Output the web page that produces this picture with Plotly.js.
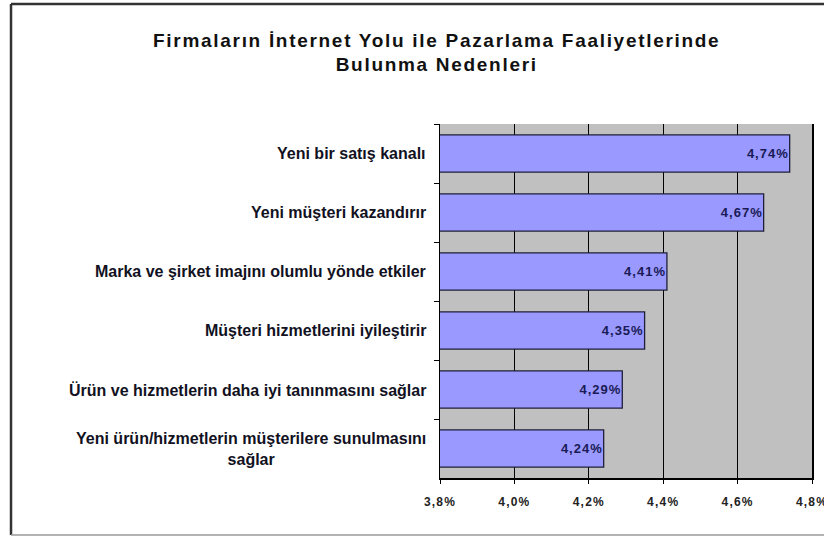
<!DOCTYPE html>
<html>
<head>
<meta charset="utf-8">
<script src="https://cdn.plot.ly/plotly-3.0.1.min.js"></script>
<style>
  html, body { margin: 0; padding: 0; background: #ffffff; }
  #chart { width: 824px; height: 537px; }
  #chart .gtitle { letter-spacing: 1.7px; }
  #chart .xtick text { letter-spacing: 1.2px; }
  #chart .bartext { letter-spacing: 1px; }
</style>
</head>
<body>
<div id="chart"></div>
<script>
const categories = [
  "Yeni bir satış kanalı",
  "Yeni müşteri kazandırır",
  "Marka ve şirket imajını olumlu yönde etkiler",
  "Müşteri hizmetlerini iyileştirir",
  "Ürün ve hizmetlerin daha iyi tanınmasını sağlar",
  "Yeni ürün/hizmetlerin müşterilere sunulmasını<br>sağlar"
];
const values = [4.74, 4.67, 4.41, 4.35, 4.29, 4.24];
const xTicks = [3.8, 4.0, 4.2, 4.4, 4.6, 4.8];

const FONT = "Liberation Sans, Arial, sans-serif";

const trace = {
  type: "bar",
  orientation: "h",
  y: categories,
  x: values,
  base: 0,
  marker: { color: "#9999FF", line: { color: "#1f1f3a", width: 1.3 } },
  texttemplate: "%{x:.2f}%",
  textposition: "inside",
  insidetextanchor: "end",
  textfont: { family: FONT, size: 13, color: "#1a1a55", weight: "bold" },
  cliponaxis: false,
  hoverinfo: "skip"
};

const annotations = categories.map(c => ({
  xref: "paper", yref: "y",
  x: 0, y: c,
  xanchor: "right", yanchor: "middle",
  xshift: -12,
  align: "center",
  text: c,
  showarrow: false,
  font: { family: FONT, size: 16, color: "#111122", weight: "bold" }
}));

const layout = {
  width: 824, height: 537,
  margin: { l: 440, r: 12, t: 124, b: 59 },
  paper_bgcolor: "#ffffff",
  plot_bgcolor: "#C0C0C0",
  separators: ",.",
  showlegend: false,
  bargap: 0.37,
  title: {
    text: "Firmaların İnternet Yolu ile Pazarlama Faaliyetlerinde<br>Bulunma Nedenleri",
    x: 0.53, xanchor: "center",
    y: 0.913, yanchor: "middle",
    font: { family: FONT, size: 19, color: "#111111", weight: "bold" }
  },
  xaxis: {
    range: [3.8, 4.8],
    tickvals: xTicks,
    ticktext: xTicks.map(v => v.toFixed(1).replace(".", ",") + "%"),
    showgrid: true, gridcolor: "#000000", gridwidth: 1,
    zeroline: false,
    showline: true, linecolor: "#000000", linewidth: 1.5,
    ticks: "outside", ticklen: 4, tickcolor: "#000000",
    ticklabelstandoff: 8,
    ticklabeloverflow: "allow",
    tickfont: { family: FONT, size: 12, color: "#222222", weight: "bold" },
    fixedrange: true
  },
  yaxis: {
    type: "category",
    autorange: "reversed",
    showticklabels: false,
    showgrid: false,
    showline: true, linecolor: "#000000", linewidth: 1.5,
    mirror: true,
    ticks: "outside", ticklen: 5, tickcolor: "#000000",
    tickson: "boundaries",
    fixedrange: true
  },
  annotations: annotations,
  shapes: [
    { type: "line", xref: "paper", yref: "paper", x0: -1.1532, x1: -1.1532, y0: 1.339, y1: -0.161,
      line: { color: "#333333", width: 2.5 } },
    { type: "line", xref: "paper", yref: "paper", x0: -1.1532, x1: 1.1, y0: 1.339, y1: 1.339,
      line: { color: "#333333", width: 2.5 } },
    { type: "line", xref: "paper", yref: "paper", x0: -1.1532, x1: 1.1, y0: -0.161, y1: -0.161,
      line: { color: "#9a9a9a", width: 1.5 } }
  ]
};

Plotly.newPlot("chart", [trace], layout, { displayModeBar: false, staticPlot: true });
</script>
</body>
</html>
